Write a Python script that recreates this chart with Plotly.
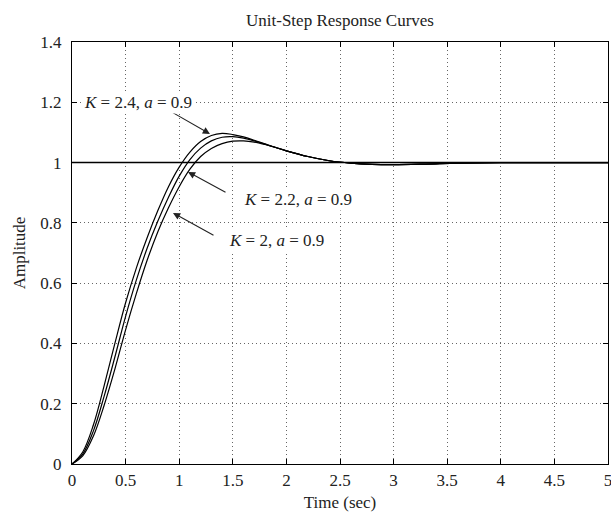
import plotly.graph_objects as go

# ---- data ----
t_24 = [0, 0.1, 0.2, 0.3, 0.4, 0.5, 0.6, 0.7, 0.8, 0.9, 1.0, 1.1, 1.2, 1.3, 1.4, 1.5, 1.6, 1.7, 1.8, 1.9, 2.0, 2.2, 2.4, 2.6, 2.8, 3.0, 3.3, 3.6, 4.0, 4.5, 5.0]
y_24 = [0, 0.04, 0.13, 0.26, 0.40, 0.535, 0.65, 0.75, 0.84, 0.92, 0.985, 1.035, 1.07, 1.09, 1.097, 1.093, 1.085, 1.074, 1.062, 1.05, 1.039, 1.02, 1.006, 0.998, 0.994, 0.993, 0.995, 0.998, 0.9995, 1.0, 1.0]

t_22 = [0, 0.1, 0.2, 0.3, 0.4, 0.5, 0.6, 0.7, 0.8, 0.9, 1.0, 1.1, 1.2, 1.3, 1.4, 1.5, 1.6, 1.7, 1.8, 1.9, 2.0, 2.2, 2.4, 2.6, 2.8, 3.0, 3.3, 3.6, 4.0, 4.5, 5.0]
y_22 = [0, 0.033, 0.11, 0.225, 0.355, 0.49, 0.61, 0.715, 0.805, 0.885, 0.955, 1.01, 1.048, 1.072, 1.084, 1.086, 1.081, 1.072, 1.061, 1.05, 1.039, 1.02, 1.006, 0.998, 0.994, 0.993, 0.995, 0.998, 0.9995, 1.0, 1.0]

t_20 = [0, 0.1, 0.2, 0.3, 0.4, 0.5, 0.6, 0.7, 0.8, 0.9, 1.0, 1.1, 1.2, 1.3, 1.4, 1.5, 1.6, 1.7, 1.8, 1.9, 2.0, 2.2, 2.4, 2.6, 2.8, 3.0, 3.3, 3.6, 4.0, 4.5, 5.0]
y_20 = [0, 0.027, 0.093, 0.195, 0.315, 0.445, 0.565, 0.675, 0.77, 0.85, 0.92, 0.978, 1.02, 1.047, 1.063, 1.071, 1.072, 1.068, 1.06, 1.05, 1.039, 1.02, 1.006, 0.998, 0.994, 0.993, 0.995, 0.998, 0.9995, 1.0, 1.0]

x_ticks = [0, 0.5, 1, 1.5, 2, 2.5, 3, 3.5, 4, 4.5, 5]
y_ticks = [0, 0.2, 0.4, 0.6, 0.8, 1, 1.2, 1.4]

labels = ["<i>K</i> = 2.4, <i>a</i> = 0.9", "<i>K</i> = 2.2, <i>a</i> = 0.9", "<i>K</i> = 2, <i>a</i> = 0.9"]

FONT = "Liberation Serif"
FS = 17
INK = "#222"

fig = go.Figure()
for t, y in [(t_24, y_24), (t_22, y_22), (t_20, y_20)]:
    fig.add_trace(go.Scatter(x=t, y=y, mode="lines",
                             line=dict(color="black", width=1.2, shape="spline", smoothing=1.0),
                             showlegend=False, hoverinfo="skip"))

# steady-state reference line
fig.add_shape(type="line", xref="paper", yref="y", x0=0, x1=1, y0=1, y1=1,
              line=dict(color="black", width=1.5))

axis_common = dict(showline=True, linecolor="black", linewidth=1.2, mirror="ticks", ticks="inside", ticklen=5,
                   tickcolor="black", showgrid=True, gridcolor="#666", gridwidth=1, griddash="1px,3px",
                   zeroline=False, automargin=False, ticklabeloverflow="allow",
                   tickfont=dict(family=FONT, size=FS, color=INK))

fig.update_xaxes(range=[0, 5], tickvals=x_ticks, ticktext=[f"{v:g}" for v in x_ticks], ticklabelstandoff=0,
                 title=dict(text="Time (sec)", font=dict(family=FONT, size=FS, color=INK), standoff=7),
                 **axis_common)
fig.update_yaxes(range=[0, 1.4], tickvals=y_ticks, ticktext=[f"{v:g}" for v in y_ticks], ticklabelstandoff=6,
                 title=dict(text="Amplitude", font=dict(family=FONT, size=FS, color=INK), standoff=10),
                 **axis_common)

# arrows (tip <- tail)
arrows = [((1.287, 1.095), (0.914, 1.171)),
          ((1.082, 0.969), (1.446, 0.899)),
          ((0.942, 0.833), (1.334, 0.756))]
for (tx, ty), (ax, ay) in arrows:
    fig.add_annotation(x=tx, y=ty, ax=ax, ay=ay, xref="x", yref="y", axref="x", ayref="y", text="",
                       showarrow=True, arrowhead=2, arrowsize=1.3, arrowwidth=1.1, arrowcolor=INK)

text_pos = [(0.09, 1.2), (1.586, 0.879), (1.446, 0.740)]
for (x, y), lab in zip(text_pos, labels):
    fig.add_annotation(x=x, y=y, xref="x", yref="y", text=lab, showarrow=False, xanchor="left", yanchor="middle",
                       font=dict(family=FONT, size=FS, color=INK), bgcolor="white", borderpad=1)

fig.update_layout(
    width=611, height=518,
    margin=dict(l=72, r=3, t=42, b=54),
    paper_bgcolor="white", plot_bgcolor="white",
    title=dict(text="Unit-Step Response Curves", x=0.5, xref="paper", xanchor="center",
               y=1 - 20 / 518, yref="container", yanchor="middle",
               font=dict(family=FONT, size=FS, color=INK)),
)

fig.write_html("out.html", config={"displayModeBar": False},
               post_script="document.body.style.margin='0';document.body.style.overflow='hidden';")
